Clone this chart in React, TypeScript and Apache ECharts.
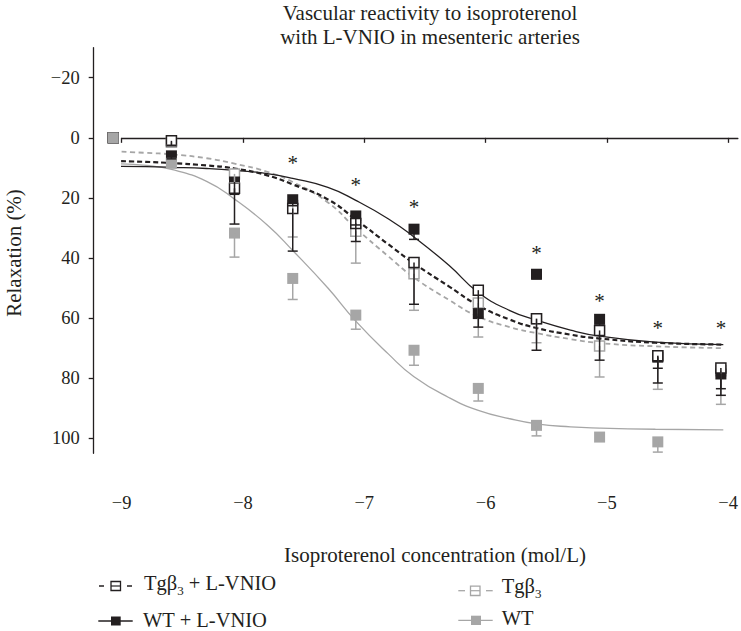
import React, { useEffect, useRef } from 'react';
import * as echarts from 'echarts';

// log10 isoproterenol concentration of each dose column
const xConc = [-9.07, -8.59, -8.07, -7.59, -7.07, -6.59, -6.06, -5.58, -5.06, -4.58, -4.06];

// Relaxation (%) means and SEM for each group
const tgLvnioMean = [0, 1, 16.8, 23.5, 28.5, 41.5, 50.7, 60.2, 64.1, 72.5, 76.6];
const tgLvnioSem = [0, 1.5, 2, 14.2, 6, 13.9, 9, 10.5, 9.9, 9.1, 9.1];
const wtLvnioMean = [0, 6, 14.7, 20.6, 26, 30.4, 58.5, 45.4, 60.4, 73, 78.6];
const wtLvnioSem = [0, 1, 14, 2, 3, 3.4, 4.5, 1.5, 2, 3.7, 4.9];
const tgMean = [0, 1.5, 12, 22.5, 31.1, 45.2, 55, 60.2, 69.3, 72.5, 77.5];
const tgSem = [0, 1, 3, 10.5, 10.6, 12.2, 11.3, 8, 10.3, 11.2, 11.2];
const wtMean = [0, 8.5, 31.7, 46.8, 59, 70.7, 83.4, 95.7, 99.6, 101.2];
const wtSem = [0, 0, 8, 7, 4.7, 5, 4.2, 3.5, 0, 3.4];

// fitted curves
const fitX = [-9.07, -8.8, -8.59, -8.3, -8.07, -7.8, -7.59, -7.3, -7.07, -6.8, -6.59, -6.3, -6.06, -5.8, -5.58, -5.3, -5.06, -4.6, -4.04];
const wtLvnioFit = [9.5, 9.6, 9.8, 10.2, 10.8, 11.9, 13.5, 16.5, 20.8, 27, 33, 42.5, 51.5, 57.5, 60.7, 64, 66, 68, 68.8];
const tgLvnioFit = [7.7, 8.0, 8.4, 9.2, 10.2, 12.5, 15.5, 20.5, 27.2, 35.5, 41.8, 49.5, 55.8, 60.5, 63.3, 65.5, 66.8, 68.2, 68.8];
const tgFit = [4.5, 5, 5.5, 6.8, 8.6, 11.3, 14.7, 21.5, 30.1, 39.5, 46.5, 54, 59.5, 63, 65, 67, 68.3, 69.4, 70];
const wtFit = [8.6, 9.2, 10.5, 14.5, 20.4, 29, 37.5, 50, 61, 72, 79.5, 86.5, 90.7, 93.5, 95.2, 96.2, 96.6, 97, 97.2];

// significance asterisks
const starX = [-7.59, -7.07, -6.59, -5.58, -5.06, -4.58, -4.06];
const starY = [7.2, 14.5, 21.6, 37.1, 53, 62.1, 62.1];

const yTicks = [-20, 0, 20, 40, 60, 80, 100];
const xTicks = [-9, -8, -7, -6, -5, -4];

const BLACK = '#231f20';
const GRAY = '#a6a6a6';
const FONT = '"Liberation Serif", "Times New Roman", serif';

const pairs = (xs: number[], ys: number[]) => ys.map((y, i) => [xs[i], y]);
const triples = (xs: number[], ys: number[], es: number[]) => ys.map((y, i) => [xs[i], y, es[i]]);
const minus = (v: number) => String(v).replace('-', '\u2212');

function errSeries(data: number[][], color: string) {
  return {
    type: 'custom',
    data,
    encode: { x: 0, y: 1 },
    z: 5,
    itemStyle: { color },
    renderItem: (params: any, api: any) => {
      const x = api.value(0);
      const m = api.value(1);
      const s = api.value(2);
      if (!s) return null;
      const p0 = api.coord([x, m]);
      const p1 = api.coord([x, m + s]);
      const st = { stroke: color, lineWidth: 1.5 };
      return {
        type: 'group',
        children: [
          { type: 'line', shape: { x1: p0[0], y1: p0[1], x2: p1[0], y2: p1[1] }, style: st },
          { type: 'line', shape: { x1: p1[0] - 5, y1: p1[1], x2: p1[0] + 5, y2: p1[1] }, style: st },
        ],
      };
    },
  };
}

function curve(data: number[][], color: string, width: number, dash: any) {
  return {
    type: 'line',
    data,
    smooth: true,
    symbol: 'none',
    showSymbol: false,
    z: 2,
    itemStyle: { color },
    lineStyle: { color, width, type: dash },
  };
}

function markers(data: number[][], fill: string, border: string, bw: number, size: number) {
  return {
    type: 'scatter',
    data,
    symbol: 'rect',
    symbolSize: size,
    clip: false,
    z: 3,
    itemStyle: { color: fill, borderColor: border, borderWidth: bw, opacity: 1 },
  };
}

function legendText(x: number, y: number, withSub: boolean, pre: string, post: string) {
  const rich = {
    n: { fontSize: 20.5, fontFamily: FONT, fill: BLACK, color: BLACK },
    s: { fontSize: 13, fontFamily: FONT, fill: BLACK, color: BLACK, padding: [15, 0, 0, 0] },
  };
  const text = withSub ? `{n|${pre}}{s|3}{n|${post}}` : `{n|${pre}}`;
  return {
    type: 'text',
    x,
    y,
    style: { text, rich, textAlign: 'left', textVerticalAlign: 'middle', fill: BLACK, font: `20.5px ${FONT}` },
  };
}

export default function App() {
  const ref = useRef<HTMLDivElement>(null);

  useEffect(() => {
    if (!ref.current) return;
    const chart = echarts.init(ref.current, undefined, { renderer: 'svg' });

    const option: any = {
      animation: false,
      backgroundColor: '#ffffff',
      color: [BLACK],
      textStyle: { fontFamily: FONT, color: BLACK },
      grid: { left: 121.7, right: 0, top: 47.7, bottom: 177.7, containLabel: false },
      xAxis: {
        type: 'value',
        min: -9,
        max: -3.92,
        offset: 28,
        axisLine: { show: true, lineStyle: { color: BLACK, width: 1.3 } },
        axisTick: { show: true, length: 5, customValues: xTicks, lineStyle: { color: BLACK, width: 1.3 } },
        axisLabel: { customValues: xTicks, margin: 12, fontSize: 18.5, fontFamily: FONT, color: BLACK, formatter: minus },
        splitLine: { show: false },
      },
      yAxis: {
        type: 'value',
        inverse: true,
        min: -30,
        max: 105,
        offset: 28,
        axisLine: { show: true, lineStyle: { color: BLACK, width: 1.3 } },
        axisTick: { show: true, length: 5, customValues: yTicks, lineStyle: { color: BLACK, width: 1.3 } },
        axisLabel: { customValues: yTicks, margin: 14, fontSize: 18.5, fontFamily: FONT, color: BLACK, formatter: minus },
        splitLine: { show: false },
      },
      series: [
        curve(pairs(fitX, tgFit), GRAY, 1.8, [5, 3.5]),
        curve(pairs(fitX, wtFit), GRAY, 1.3, 'solid'),
        curve(pairs(fitX, wtLvnioFit), BLACK, 1.3, 'solid'),
        curve(pairs(fitX, tgLvnioFit), BLACK, 2.2, [5, 3]),
        markers(pairs(xConc, tgMean), '#ffffff', GRAY, 1.5, 10),
        markers(pairs(xConc, wtLvnioMean), BLACK, BLACK, 0, 11),
        markers(pairs(xConc, tgLvnioMean), '#ffffff', BLACK, 1.5, 10),
        markers(pairs(xConc, wtMean), GRAY, GRAY, 0, 11),
        errSeries(triples(xConc, tgMean, tgSem), GRAY),
        errSeries(triples(xConc, wtMean, wtSem), GRAY),
        errSeries(triples(xConc, wtLvnioMean, wtLvnioSem), BLACK),
        errSeries(triples(xConc, tgLvnioMean, tgLvnioSem), BLACK),
        {
          type: 'custom',
          data: pairs(starX, starY),
          encode: { x: 0, y: 1 },
          z: 6,
          itemStyle: { color: BLACK },
          renderItem: (params: any, api: any) => {
            const p = api.coord([api.value(0), api.value(1)]);
            return {
              type: 'text',
              x: p[0],
              y: p[1] + 4,
              style: { text: '*', fill: BLACK, font: `21px ${FONT}`, textAlign: 'center', textVerticalAlign: 'middle' },
            };
          },
        },
      ],
      graphic: [
        {
          type: 'text',
          x: 430,
          y: 1,
          style: {
            text: 'Vascular reactivity to isoproterenol\nwith L-VNIO in mesenteric arteries',
            font: `21px ${FONT}`,
            fill: BLACK,
            textAlign: 'center',
            textVerticalAlign: 'top',
            lineHeight: 24,
          },
        },
        {
          type: 'text',
          x: 435,
          y: 555,
          style: {
            text: 'Isoproterenol concentration (mol/L)',
            font: `21px ${FONT}`,
            fill: BLACK,
            textAlign: 'center',
            textVerticalAlign: 'middle',
          },
        },
        {
          type: 'text',
          x: 14,
          y: 253,
          rotation: Math.PI / 2,
          style: {
            text: 'Relaxation (%)',
            font: `21px ${FONT}`,
            fill: BLACK,
            textAlign: 'center',
            textVerticalAlign: 'middle',
          },
        },
        // legend: Tgβ3 + L-VNIO
        { type: 'line', shape: { x1: 99, y1: 586, x2: 104, y2: 586 }, style: { stroke: BLACK, lineWidth: 1.5 } },
        { type: 'line', shape: { x1: 127, y1: 586, x2: 132, y2: 586 }, style: { stroke: BLACK, lineWidth: 1.5 } },
        { type: 'rect', shape: { x: 111, y: 581.5, width: 9.5, height: 9 }, style: { fill: '#ffffff', stroke: BLACK, lineWidth: 1.3 } },
        { type: 'line', shape: { x1: 111, y1: 586, x2: 120.5, y2: 586 }, style: { stroke: BLACK, lineWidth: 1.2 } },
        legendText(144, 582.5, true, 'Tgβ', ' + L-VNIO'),
        // legend: WT + L-VNIO
        { type: 'line', shape: { x1: 98.3, y1: 621, x2: 132.7, y2: 621 }, style: { stroke: BLACK, lineWidth: 1.5 } },
        { type: 'rect', shape: { x: 111, y: 616.5, width: 9.7, height: 9 }, style: { fill: BLACK } },
        legendText(143, 619.5, false, 'WT + L-VNIO', ''),
        // legend: Tgβ3
        { type: 'line', shape: { x1: 458.3, y1: 590.7, x2: 465, y2: 590.7 }, style: { stroke: GRAY, lineWidth: 1.3 } },
        { type: 'line', shape: { x1: 486, y1: 590.7, x2: 492.7, y2: 590.7 }, style: { stroke: GRAY, lineWidth: 1.3 } },
        { type: 'rect', shape: { x: 470.5, y: 586.2, width: 9.5, height: 9.3 }, style: { fill: '#ffffff', stroke: GRAY, lineWidth: 1.3 } },
        { type: 'line', shape: { x1: 470.5, y1: 590.7, x2: 480, y2: 590.7 }, style: { stroke: GRAY, lineWidth: 1.2 } },
        legendText(501.7, 586.3, true, 'Tgβ', ''),
        // legend: WT
        { type: 'line', shape: { x1: 458.3, y1: 620.3, x2: 492.7, y2: 620.3 }, style: { stroke: GRAY, lineWidth: 1.3 } },
        { type: 'rect', shape: { x: 471, y: 615.7, width: 10, height: 9.3 }, style: { fill: GRAY } },
        legendText(501.7, 618.3, false, 'WT', ''),
      ],
    };

    chart.setOption(option);
    return () => chart.dispose();
  }, []);

  return (
    <div
      ref={ref}
      style={{ position: 'absolute', left: 0, top: 0, width: 741, height: 631, background: '#fff' }}
    />
  );
}
